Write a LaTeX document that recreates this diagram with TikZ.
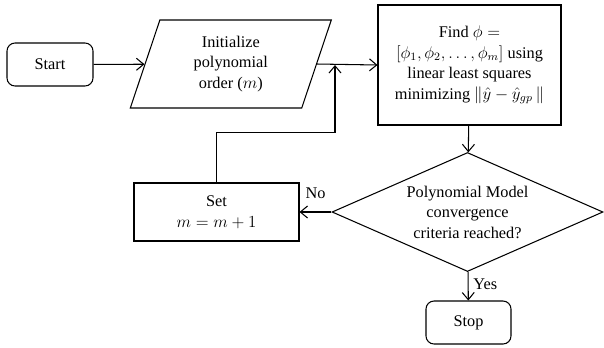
\documentclass[tikz,border=0pt]{standalone}
\usepackage{fontspec}
\setmainfont{Liberation Serif}
\usepackage{amsmath}
\usetikzlibrary{shapes.geometric, arrows.meta, positioning, calc}
\definecolor{flowline}{RGB}{0, 0, 0}
\tikzstyle{startstop} = [draw=flowline, rounded corners=0.2cm, line width=0.75pt,
                         minimum width=2.15cm, minimum height=1.075cm, align=center]
\tikzstyle{io} = [draw=flowline, trapezium, trapezium left angle=65.6, trapezium right angle=114.4,
                  trapezium stretches body, line width=0.75pt,
                  minimum width=5.025cm, minimum height=2.2cm, align=center]
\tikzstyle{process} = [draw=flowline, line width=0.75pt, align=center]
\tikzstyle{decision} = [draw=flowline, diamond, aspect=2.28, inner sep=0pt, line width=0.75pt,
                        minimum width=6.775cm, minimum height=2.975cm, align=center]
\tikzstyle{arrow} = [draw=flowline, line width=0.75pt, -{Straight Barb[length=1.8mm, width=3mm]}]

\begin{document}
\begin{tikzpicture}[font=\fontsize{11.6}{14.6}\selectfont]
                    \useasboundingbox (0,0) rectangle (15.1,-8.675);
                    \node[startstop] (start) at (1.25, -1.6125) {Start};
                    \node[io] (init) at (5.77, -1.6) {Initialize\\polynomial\\order ($m$)};
                    \node[process, minimum width=4.575cm, minimum height=3cm] (find) at (11.7375, -1.625)
                        {Find $\phi=$\\$[\phi_1,\phi_2,\ldots,\phi_m]$ using\\linear least squares\\minimizing $\|\hat{y}-\hat{y}_{gp}\,\|$};
                    \node[decision] (conv) at (11.6875, -5.3) {Polynomial Model\\convergence\\criteria reached?};
                    \node[process, minimum width=4.125cm, minimum height=1.45cm] (set) at (5.4125, -5.3) {Set\\$m=m+1$};
                    \node[startstop, minimum width=2.125cm] (stop) at (11.7125, -8.0625) {Stop};
                    \coordinate (join) at (8.375, -1.625);
                    \draw[arrow] (start) -- (init);
                    \draw[arrow] (init.east) -- (find.west);
                    \draw[arrow] (find) -- (conv);
                    \draw[arrow] (conv) -- node[above=2mm] {No} (set);
                    \draw[arrow] (conv) -- node[pos=0.45, right] {Yes} (stop);
                    \draw[arrow] (set.north) -- ++(0, 1.25) -| (join);
                \end{tikzpicture}
\end{document}
